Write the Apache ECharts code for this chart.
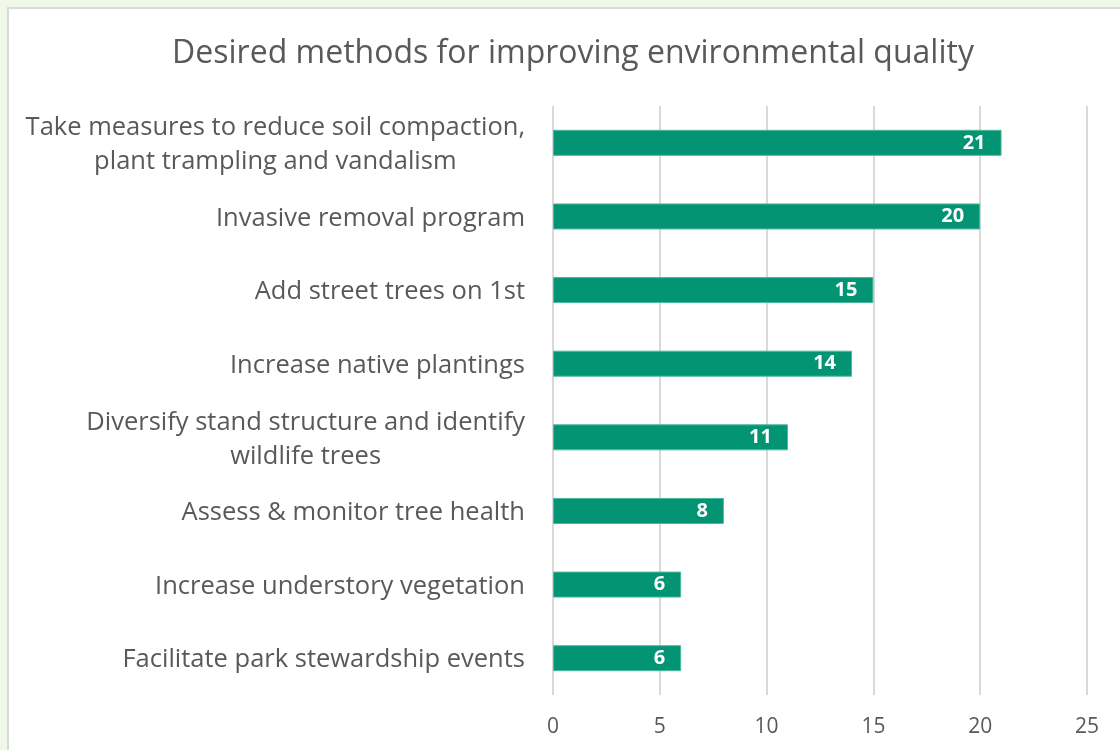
<!DOCTYPE html>
<html>
<head>
<meta charset="utf-8">
<script src="https://cdn.jsdelivr.net/npm/echarts@6/dist/echarts.min.js"></script>
<style>
html,body{margin:0;padding:0;background:#f1f7e9;}
#wrap{position:absolute;left:7px;top:7px;width:1113px;height:743px;background:#fff;border-left:2px solid #d9dcd4;border-top:2px solid #d9dcd4;box-sizing:border-box;}
#chart{position:absolute;left:0;top:0;width:1120px;height:750px;}
</style>
</head>
<body>
<div id="wrap"></div>
<div id="chart"></div>
<script>
const categories = [
  "Take measures to reduce soil compaction,\nplant trampling and vandalism",
  "Invasive removal program",
  "Add street trees on 1st",
  "Increase native plantings",
  "Diversify stand structure and identify\nwildlife trees",
  "Assess & monitor tree health",
  "Increase understory vegetation",
  "Facilitate park stewardship events"
];
const values = [21, 20, 15, 14, 11, 8, 6, 6];
const xTicks = [0, 5, 10, 15, 20, 25];

const chart = echarts.init(document.getElementById('chart'));
chart.setOption({
  backgroundColor: 'transparent',
  animation: false,
  title: {
    text: 'Desired methods for improving environmental quality',
    left: 568, top: 33, textAlign: 'center',
    textStyle: {fontFamily: 'Open Sans', fontSize: 32, fontWeight: 'normal', color: '#595959'}
  },
  grid: {left: 553, right: 33, top: 106, bottom: 55, containLabel: false},
  xAxis: {
    type: 'value', min: xTicks[0], max: xTicks[xTicks.length-1], interval: 5,
    axisLine: {show: false}, axisTick: {show: false},
    splitLine: {lineStyle: {color: '#d9d9d9', width: 2}},
    axisLabel: {fontFamily: 'Open Sans', fontSize: 21, color: '#595959', margin: 22}
  },
  yAxis: {
    type: 'category', inverse: true, data: categories,
    axisLine: {show: false}, axisTick: {show: false},
    axisLabel: {
      margin: 28,
      padding: [4, 0, 0, 0],
      formatter: function (v) { return v.split('\n').map(s => '{a|' + s + '}').join('\n'); },
      rich: {a: {fontFamily: 'Open Sans', fontSize: 25.5, color: '#595959', align: 'center', lineHeight: 34}}
    }
  },
  series: [{
    type: 'bar', data: values, barWidth: 26,
    itemStyle: {color: '#039474', borderColor: '#4db89c', borderWidth: 1},
    label: {show: true, position: 'insideRight', distance: 16,
      fontFamily: 'Open Sans', fontWeight: 'bold', fontSize: 20, color: '#ffffff'}
  }]
});
</script>
</body>
</html>
